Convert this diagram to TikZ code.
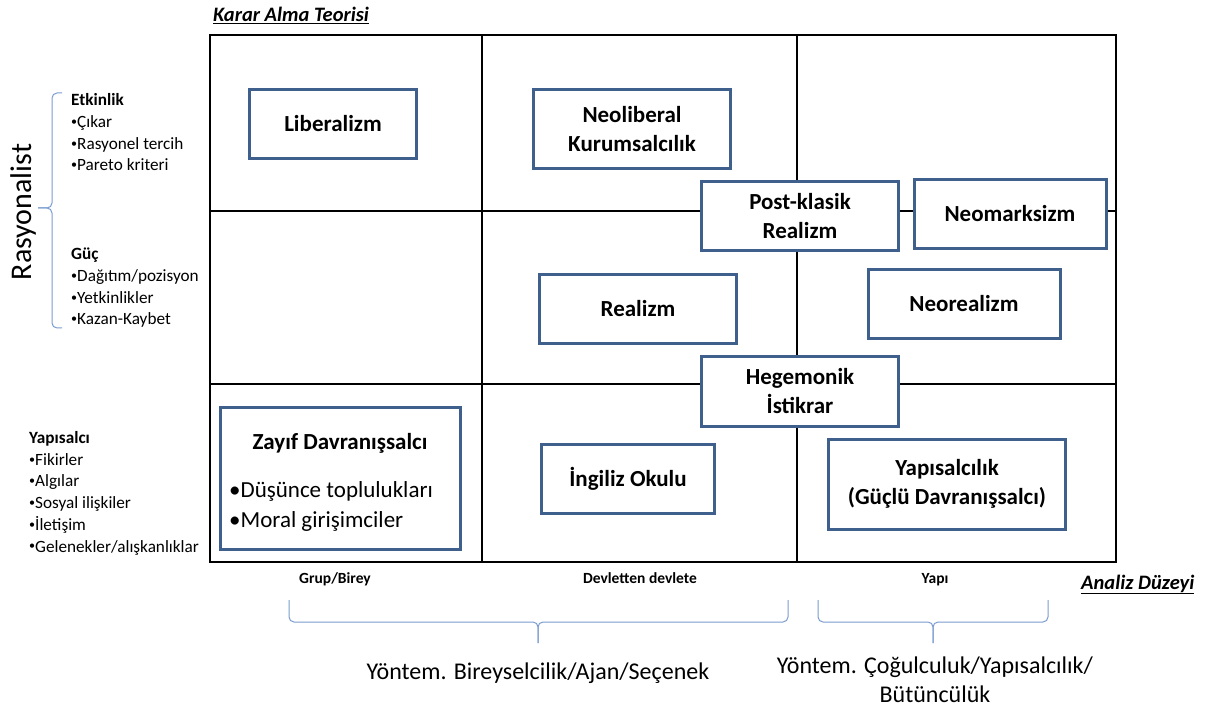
\documentclass[tikz,border=0pt]{standalone}
\usepackage{fontspec}
\setmainfont{Carlito}
\usetikzlibrary{positioning}
\definecolor{boxblue}{HTML}{3F5F8C}
\definecolor{braceblue}{HTML}{7A9CCF}
\newcommand{\smallbul}{\raisebox{0.12em}{\scalebox{0.7}{•}}}

\begin{document}
\begin{tikzpicture}[x=1pt,y=-1pt,
  theory/.style={draw=boxblue, line width=3pt, fill=white, align=center, inner sep=0pt,
    font=\fontsize{23}{29}\selectfont\bfseries},
  sidelist/.style={anchor=base west, align=left, inner sep=0pt,
    font=\fontsize{17.2}{21.7}\selectfont},
  level/.style={anchor=base, inner sep=0pt, font=\fontsize{15.5}{18}\selectfont\bfseries},
  axis/.style={anchor=base west, inner sep=0pt, font=\fontsize{20.5}{24}\selectfont\bfseries\itshape},
  method/.style={align=center, inner sep=0pt, font=\fontsize{24}{29}\selectfont},
  curly/.style={draw=braceblue, line width=1pt, rounded corners=5pt},
]
\useasboundingbox (0,0) rectangle (1213,711);

% grid
\draw[line width=2pt] (210,35) rectangle (1116,562);
\draw[line width=2pt] (482,35) -- (482,562);
\draw[line width=2pt] (797,35) -- (797,562);
\draw[line width=2pt] (210,211) -- (1116,211);
\draw[line width=2pt] (210,384) -- (1116,384);

% axis titles
\node[axis] (karar) at (213,22) {\underline{Karar Alma Teorisi}};
\node[axis] (analiz) at (1081,589) {\underline{Analiz Düzeyi}};

% theories
\node[theory, minimum width=167pt, minimum height=69pt] (liberal) at (333,124) {Liberalizm};
\node[theory, minimum width=197pt, minimum height=79pt] (neolib) at (632,129) {Neoliberal\\Kurumsalcılık};
\node[theory, minimum width=197pt, minimum height=69pt] (postk) at (800,216) {Post-klasik\\Realizm};
\node[theory, minimum width=192pt, minimum height=69pt] (neomark) at (1010,214) {Neomarksizm};
\node[theory, minimum width=197pt, minimum height=69pt] (realizm) at (638,309) {Realizm};
\node[theory, minimum width=192pt, minimum height=69pt] (neoreal) at (964,304) {Neorealizm};
\node[theory, minimum width=197pt, minimum height=70pt] (hegemon) at (800,391) {Hegemonik\\İstikrar};
\node[theory, minimum width=240pt, minimum height=142pt] (zayif) at (340,478) {};
\node[anchor=base, inner sep=0pt, font=\fontsize{23}{29}\selectfont\bfseries] (zayiftitle) at (340,449) {Zayıf Davranışsalcı};
\node[anchor=base west, align=left, inner sep=0pt, font=\fontsize{23}{30}\selectfont] (zayiflist) at (229,527) {•Düşünce toplulukları\\•Moral girişimciler};
\node[theory, minimum width=173pt, minimum height=69pt] (ingiliz) at (628,479) {İngiliz Okulu};
\node[theory, minimum width=237pt, minimum height=90pt] (yapi) at (947,484) {Yapısalcılık\\(Güçlü Davranışsalcı)};

% left side
\node[rotate=90, inner sep=0pt, font=\fontsize{30}{34}\selectfont] (rasyon) at (24,212) {Rasyonalist};
\node[sidelist] (etkin) at (71,171) {\textbf{Etkinlik}\\\smallbul Çıkar\\\smallbul Rasyonel tercih\\\smallbul Pareto kriteri};
\node[sidelist] (guc) at (71,325) {\textbf{Güç}\\\smallbul Dağıtım/pozisyon\\\smallbul Yetkinlikler\\\smallbul Kazan-Kaybet};
\node[sidelist] (yapisalci) at (29,552) {\textbf{Yapısalcı}\\\smallbul Fikirler\\\smallbul Algılar\\\smallbul Sosyal ilişkiler\\\smallbul İletişim\\\smallbul Gelenekler/alışkanlıklar};
\coordinate (lbtop) at (62,93);
\coordinate (lbbot) at (62,328);
\coordinate (lbtip) at (38,208);
\draw[curly] (lbtop) -- (52,93) -- (52,208) -- (lbtip);
\draw[curly] (lbbot) -- (52,328) -- (52,208) -- (lbtip);

% bottom
\node[level] (grup) at (335,583) {Grup/Birey};
\node[level] (devlet) at (640,583) {Devletten devlete};
\node[level] (yapilevel) at (935,583) {Yapı};
\coordinate (b1left) at (289,600);
\coordinate (b1right) at (788,600);
\coordinate (b1tip) at (538,643);
\coordinate (b2left) at (818,600);
\coordinate (b2right) at (1048,600);
\coordinate (b2tip) at (933,643);
\draw[curly] (b1left) |- (538,622) -- (b1tip);
\draw[curly] (b1right) |- (538,622) -- (b1tip);
\draw[curly] (b2left) |- (933,622) -- (b2tip);
\draw[curly] (b2right) |- (933,622) -- (b2tip);
\node[method] (birey) at (538,673) {Yöntem. Bireyselcilik/Ajan/Seçenek};
\node[method] (cogul) at (935,680) {Yöntem. Çoğulculuk/Yapısalcılık/\\Bütüncülük};
\end{tikzpicture}
\end{document}
